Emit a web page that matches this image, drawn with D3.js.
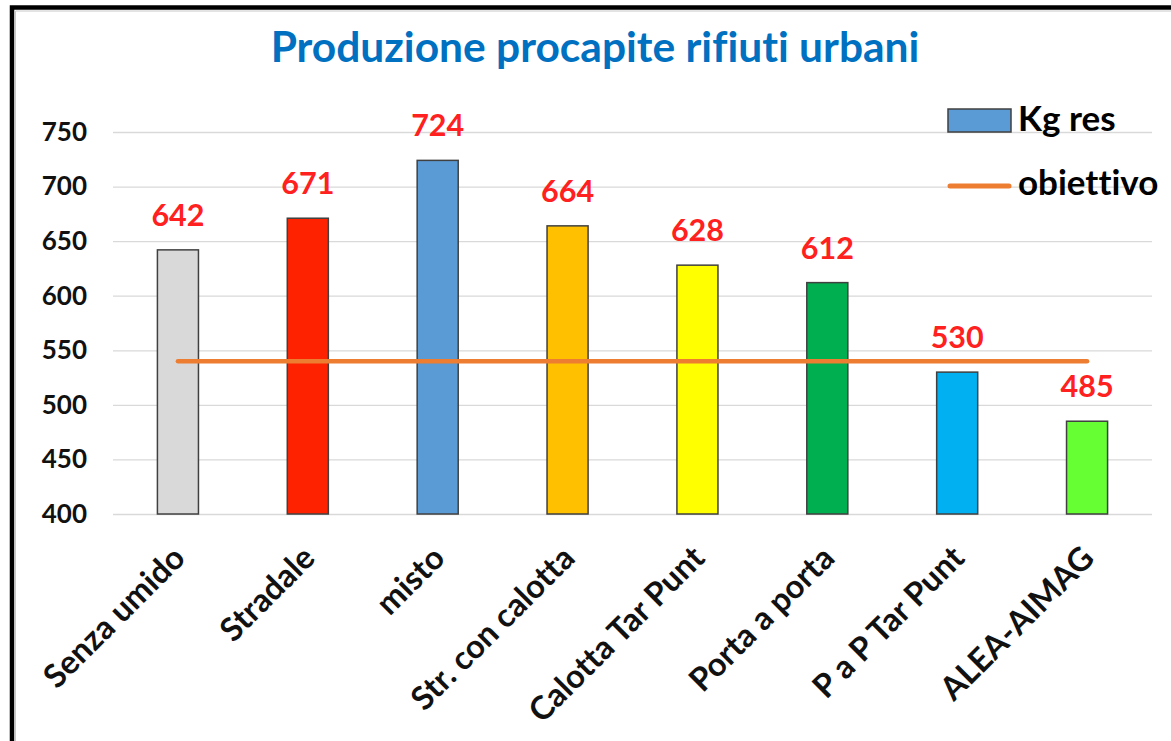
<!DOCTYPE html>
<html>
<head>
<meta charset="utf-8">
<script src="https://cdn.jsdelivr.net/npm/d3@7"></script>
<style>
  body { margin: 0; background: #fff; }
  text { font-family: Lato, "Open Sans", sans-serif; font-weight: bold; font-variant-ligatures: none; }
</style>
</head>
<body>
<div id="wrapper"></div>
<script>
// dati
const categorie = ["Senza umido", "Stradale", "misto", "Str. con calotta", "Calotta Tar Punt", "Porta a porta", "P a P Tar Punt", "ALEA-AIMAG"];
const kgRes = [642, 671, 724, 664, 628, 612, 530, 485];
const obiettivo = [540, 540, 540, 540, 540, 540, 540, 540];
const coloriBarre = ["#D9D9D9", "#FF2200", "#5B9BD5", "#FFC000", "#FFFF00", "#00B050", "#00B0F0", "#66FF33"];
const yTicks = [400, 450, 500, 550, 600, 650, 700, 750];

function buildPlot() {
    const dimension = {
        width: 1171,
        height: 741,
        margin: { top: 132, left: 113, bottom: 227, right: 19 }
    };
    dimension.boundedWidth = dimension.width - dimension.margin.left - dimension.margin.right;
    dimension.boundedHeight = dimension.height - dimension.margin.top - dimension.margin.bottom;

    const svg = d3.select("#wrapper").append("svg")
        .attr("width", dimension.width)
        .attr("height", dimension.height);

    // cornice
    svg.append("rect")
        .attr("x", 12).attr("y", 7.5)
        .attr("width", 1200).attr("height", 800)
        .attr("fill", "#fff")
        .attr("stroke", "#000")
        .attr("stroke-width", 4.5);
    svg.append("path")
        .attr("d", "M15.5,1000 V11 H1200")
        .attr("fill", "none")
        .attr("stroke", "#c8c8c8")
        .attr("stroke-width", 1);

    // titolo
    svg.append("text")
        .attr("x", 595)
        .attr("y", 62)
        .attr("text-anchor", "middle")
        .attr("fill", "#0070C0")
        .style("font-size", "42.5px")
        .text("Produzione procapite rifiuti urbani");

    const bounded = svg.append("g")
        .attr("transform", `translate(${dimension.margin.left},${dimension.margin.top})`);

    const yScaler = d3.scaleLinear()
        .domain([400, 750])
        .range([dimension.boundedHeight, 0]);

    const xScaler = d3.scaleBand()
        .domain(categorie)
        .range([0, dimension.boundedWidth])
        .paddingInner(0.684)
        .paddingOuter(0.342);

    // griglia + etichette asse y
    const yAxis = d3.axisLeft(yScaler)
        .tickValues(yTicks)
        .tickSize(-dimension.boundedWidth)
        .tickPadding(26)
        .tickFormat(d3.format("d"));
    const gy = bounded.append("g").call(yAxis);
    gy.select(".domain").remove();
    gy.selectAll(".tick line").attr("stroke", "#D9D9D9").attr("stroke-width", 1.3);
    gy.selectAll(".tick text")
        .attr("fill", "#111")
        .style("font-size", "26px")
        .style("font-family", "Lato, sans-serif");

    // asse x
    const xAxis = d3.axisBottom(xScaler).tickSize(0).tickPadding(0);
    const gx = bounded.append("g")
        .attr("transform", `translate(0,${dimension.boundedHeight})`)
        .call(xAxis);
    gx.select(".domain").remove();
    gx.selectAll(".tick text")
        .attr("fill", "#111")
        .attr("text-anchor", "end")
        .attr("dy", null)
        .attr("y", 0)
        .attr("transform", "translate(9,46) rotate(-45)")
        .style("font-size", "32.5px")
        .style("font-family", "Lato, sans-serif");

    // barre
    bounded.selectAll("rect.bar")
        .data(kgRes)
        .join("rect")
        .attr("class", "bar")
        .attr("x", (d, i) => xScaler(categorie[i]))
        .attr("y", d => yScaler(d))
        .attr("width", xScaler.bandwidth())
        .attr("height", d => dimension.boundedHeight - yScaler(d))
        .attr("fill", (d, i) => coloriBarre[i])
        .attr("stroke", "#404040")
        .attr("stroke-width", 1.5);

    // linea obiettivo
    const lineGenerator = d3.line()
        .x((d, i) => xScaler(categorie[i]) + xScaler.bandwidth() / 2)
        .y(d => yScaler(d));
    bounded.append("path")
        .attr("d", lineGenerator(obiettivo))
        .attr("fill", "none")
        .attr("stroke", "#ED7D31")
        .attr("stroke-width", 4.5)
        .attr("stroke-linecap", "round");

    // etichette valori
    bounded.selectAll("text.val")
        .data(kgRes)
        .join("text")
        .attr("class", "val")
        .attr("x", (d, i) => xScaler(categorie[i]) + xScaler.bandwidth() / 2)
        .attr("y", d => yScaler(d) - 24)
        .attr("text-anchor", "middle")
        .attr("fill", "#FF2020")
        .style("font-size", "30.5px")
        .text(d => d);

    // legenda
    const legend = svg.append("g").attr("transform", "translate(948,109)");
    legend.append("rect")
        .attr("width", 63).attr("height", 23)
        .attr("fill", "#5B9BD5")
        .attr("stroke", "#404040")
        .attr("stroke-width", 1.5);
    legend.append("text")
        .attr("x", 70).attr("y", 22)
        .attr("fill", "#000")
        .style("font-size", "35px")
        .text("Kg res");
    legend.append("line")
        .attr("x1", 2).attr("x2", 61)
        .attr("y1", 77).attr("y2", 77)
        .attr("stroke", "#ED7D31")
        .attr("stroke-width", 5)
        .attr("stroke-linecap", "round");
    legend.append("text")
        .attr("x", 70).attr("y", 86)
        .attr("fill", "#000")
        .style("font-size", "35px")
        .text("obiettivo");
}

buildPlot();
</script>
</body>
</html>
